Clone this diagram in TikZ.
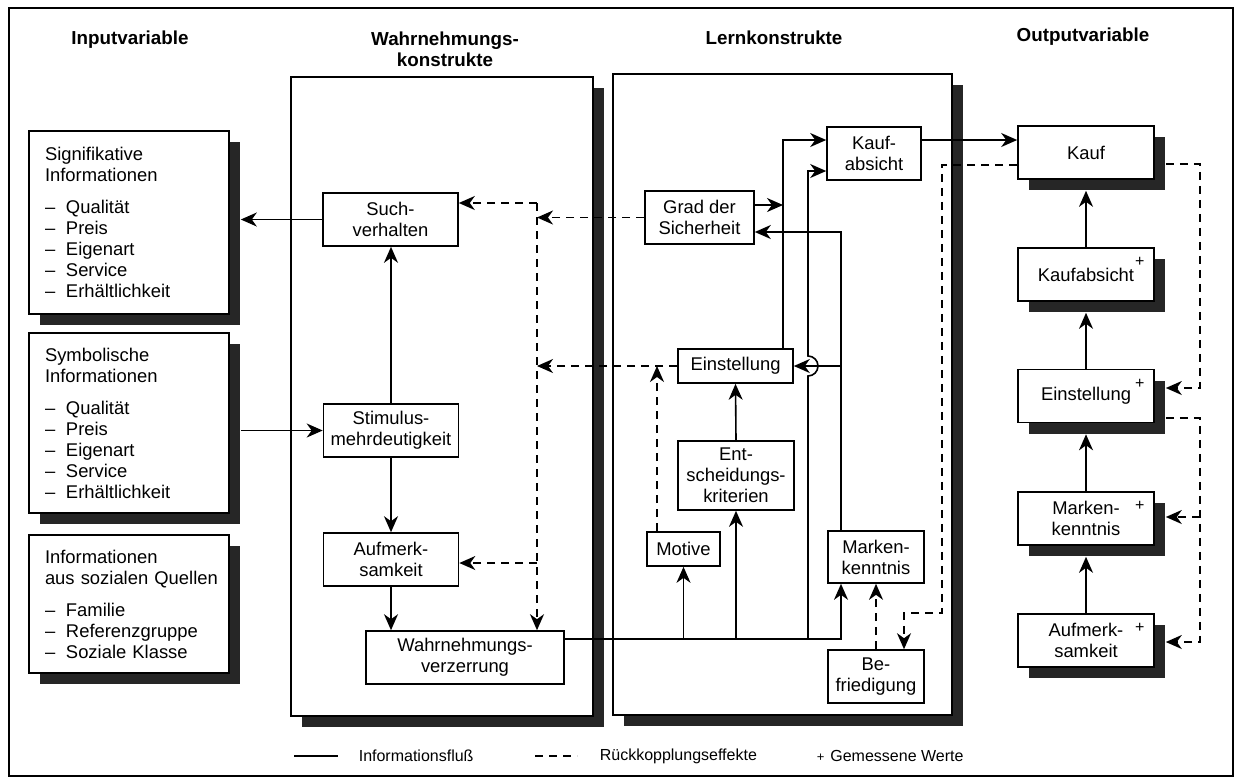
\documentclass[tikz,border=0pt]{standalone}
\usepackage{fontspec}
\setmainfont{Liberation Sans}
\usetikzlibrary{arrows.meta,calc}

\begin{document}
\begin{tikzpicture}[x=0.5pt,y=-0.5pt,line width=0.8pt,
        font=\fontsize{9.2}{10.5}\selectfont,
        box/.style={draw,fill=white,align=center,inner sep=0pt},
        inbox/.style={minimum width=100pt,text width=84pt,align=left},
        outbox/.style={minimum width=68pt,minimum height=26.5pt},
        shadowfill/.style={fill=black!85,draw=none,inner sep=0pt},
        head/.style={font=\fontsize{9.4}{10.5}\selectfont\bfseries,align=center},
        plus/.style={font=\fontsize{8}{8}\selectfont,inner sep=0pt},
        flow/.style={-{Stealth[length=8pt,width=7pt,inset=2.5pt]}},
        fb/.style={flow,dash pattern=on 4pt off 3pt},
        legend/.style={font=\fontsize{8}{9}\selectfont,anchor=west,inner sep=0pt}]

        % Box macro with drop shadow:
        % #1 = name
        % #2 = size/style
        % #3 = centre (px)
        % #4 = text
        \newcommand{\shbox}[4]{%
            \node[shadowfill,#2] (#1-sh) at ($#3+(11,11)$) {};
            \node[box,#2] (#1) at #3 {#4};
        }
        % list entry with dash
        \newcommand{\itm}[1]{\makebox[10.5pt][l]{--}#1}

        \useasboundingbox (0,0) rectangle (1236,778);

        % outer frame
        \draw[line width=0.6pt] (9,8) rectangle (1233,776);

        % column heads
        \node[head] (hin) at (130,40) {Inputvariable};
        \node[head] (hwahr) at (445,49) {Wahrnehmungs-\\konstrukte};
        \node[head] (hlern) at (774,38) {Lernkonstrukte};
        \node[head] (hout) at (1083,37) {Outputvariable};

        % the two construct panels
        \shbox{wpanel}{minimum width=151pt,minimum height=319.5pt}{(442,396.5)}{}
        \shbox{lpanel}{minimum width=169.5pt,minimum height=320.5pt}{(782.5,394.5)}{}

        % input variables
        \shbox{insig}{inbox,minimum height=91.5pt}{(129,222.5)}{Signifikative\\Informationen\\[5.5pt]\itm{Qualität}\\\itm{Preis}\\\itm{Eigenart}\\\itm{Service}\\\itm{Erhältlichkeit}}
        \shbox{insym}{inbox,minimum height=90pt}{(129,423)}{Symbolische\\Informationen\\[5.5pt]\itm{Qualität}\\\itm{Preis}\\\itm{Eigenart}\\\itm{Service}\\\itm{Erhältlichkeit}}
        \shbox{insoz}{inbox,minimum height=69pt}{(129,604)}{Informationen\\\mbox{aus sozialen Quellen}\\[5.5pt]\itm{Familie}\\\itm{Referenzgruppe}\\\itm{Soziale Klasse}}

        % perception constructs
        \node[box,minimum width=67.5pt,minimum height=26.5pt] (such) at (390.5,219.5) {Such-\\verhalten};
        \node[box,minimum width=67.5pt,minimum height=26.5pt] (stim) at (391,430.5) {Stimulus-\\mehrdeutigkeit};
        \node[box,minimum width=67.5pt,minimum height=26.5pt] (aufm) at (391,559.5) {Aufmerk-\\samkeit};
        \node[box,minimum width=99pt,minimum height=26.5pt] (verz) at (465,657.5) {Wahrnehmungs-\\verzerrung};

        % learning constructs
        \node[box,minimum width=47pt,minimum height=26.5pt] (kabs) at (874,153.5) {Kauf-\\absicht};
        \node[box,minimum width=54.5pt,minimum height=26.5pt] (grad) at (699.5,217.5) {Grad der\\Sicherheit};
        \node[box,minimum width=57.5pt,minimum height=17pt] (einst) at (735.5,366) {Einstellung};
        \node[box,minimum width=58pt,minimum height=34.5pt] (ent) at (736,475.5) {Ent-\\scheidungs-\\kriterien};
        \node[box,minimum width=36.5pt,minimum height=17pt] (motive) at (683.5,549) {Motive};
        \node[box,minimum width=48pt,minimum height=26pt] (marken) at (876,557) {Marken-\\kenntnis};
        \node[box,minimum width=48pt,minimum height=26.5pt] (befr) at (876,676.5) {Be-\\friedigung};

        % output variables
        \shbox{okauf}{outbox}{(1086,152.5)}{Kauf}
        \shbox{okabs}{outbox}{(1086,274.5)}{Kaufabsicht}
        \shbox{oeinst}{outbox}{(1086,396)}{Einstellung}
        \shbox{omark}{outbox}{(1086,518.5)}{Marken-\\kenntnis}
        \shbox{oaufm}{outbox}{(1086,640.5)}{Aufmerk-\\samkeit}

        % measured values
        \foreach \b in {okabs,oeinst,omark,oaufm}{
            \node[plus] (\b-plus) at ($(\b.north east)+(-15,15)$) {+};
        }

        % junction points
        \coordinate (fbtop) at (537,203);
        \coordinate (fbaufm) at (537,563);
        \coordinate (motx) at (657,549);
        \coordinate (bus) at (841,639);
        \coordinate (hop) at (808,366);
        \coordinate (kabslow) at (808,171);
        \coordinate (mkup) at (841,232);
        \coordinate (eup) at (783,140);
        \coordinate (gradout) at (783,205);
        \coordinate (kfb1) at (942,165);
        \coordinate (kfb2) at (904,613);
        \coordinate (ofb1) at (1200,164);
        \coordinate (oein) at (1200,388);
        \coordinate (ofb2) at (1200,418);
        \coordinate (omk) at (1200,517);
        \coordinate (oauf) at (1200,642);

        % information flow
        \draw[flow] (such.west) -- (such.west -| insig-sh.east);
        \draw[flow] (stim.west -| insym-sh.east) -- (stim.west);
        \draw[flow] (stim.north) -- (stim.north |- such.south);
        \draw[flow] (stim.south) -- (stim.south |- aufm.north);
        \draw[flow] (aufm.south) -- (aufm.south |- verz.north);

        \draw[flow] (verz.east |- bus) -- (bus) -- (marken.south -| bus);
        \draw[flow] (motive.south |- bus) -- (motive.south);
        \draw[flow] (ent.south |- bus) -- (ent.south);
        \draw[flow] (hop |- bus) -- ([yshift=-5pt]hop)
            arc[start angle=-90,end angle=90,radius=5pt] -- (kabslow) -- (kabslow -| kabs.west);
        \draw[flow] (marken.north -| mkup) -- (mkup) -- (mkup -| grad.east);
        \draw[flow] (einst.east -| mkup) -- (einst.east);
        \draw[flow] (einst.north -| eup) -- (eup) -- (eup -| kabs.west);
        \draw[flow] (gradout -| grad.east) -- (gradout);
        \draw[flow] (ent.north) -- (einst.south);
        \draw[flow] (eup -| kabs.east) -- (eup -| okauf.west);

        \foreach \a/\b in {okabs/okauf,oeinst/okabs,omark/oeinst,oaufm/omark}{
            \draw[flow] (\a.north) -- (\a.north |- \b-sh.south);
        }

        % feedback effects
        \draw[fb] (grad.west) -- (grad.west -| fbtop);
        \draw[fb] (einst.west) -- (einst.west -| fbtop);
        \draw[fb] (fbtop) -- (fbtop -| such.east);
        \draw[fb] (fbtop) -- (fbtop |- verz.north);
        \draw[fb] (fbaufm) -- (fbaufm -| aufm.east);
        \draw[fb] (motx |- motive.north) -- (motx |- einst.west);

        \draw[fb] (kfb1 -| okauf.west) -- (kfb1) |- (kfb2) -- (kfb2 |- befr.north);
        \draw[fb] (befr.north) -- (marken.south);

        \draw[fb] (ofb1 -| okauf-sh.east) -- (ofb1) -- (oein) -- (oein -| oeinst-sh.east);
        \draw[fb] (ofb2 -| oeinst-sh.east) -- (ofb2) -- (oauf) -- (oauf -| oaufm-sh.east);
        \draw[fb] (omk) -- (omk -| omark-sh.east);

        % legend
        \node[legend] (lgflow) at (358,756) {Informationsfluß};
        \node[legend] (lgfb) at (599,756) {Rückkopplungseffekte};
        \node[legend] (lgplus) at (816,756) {{\fontsize{6.5}{7}\selectfont+}\hspace{3pt}Gemessene Werte};
        \draw ([xshift=-32pt]lgflow.west) -- ([xshift=-10pt]lgflow.west);
        \draw[dash pattern=on 4pt off 3pt] ([xshift=-32pt]lgfb.west) -- ([xshift=-11pt]lgfb.west);
    \end{tikzpicture}
\end{document}
